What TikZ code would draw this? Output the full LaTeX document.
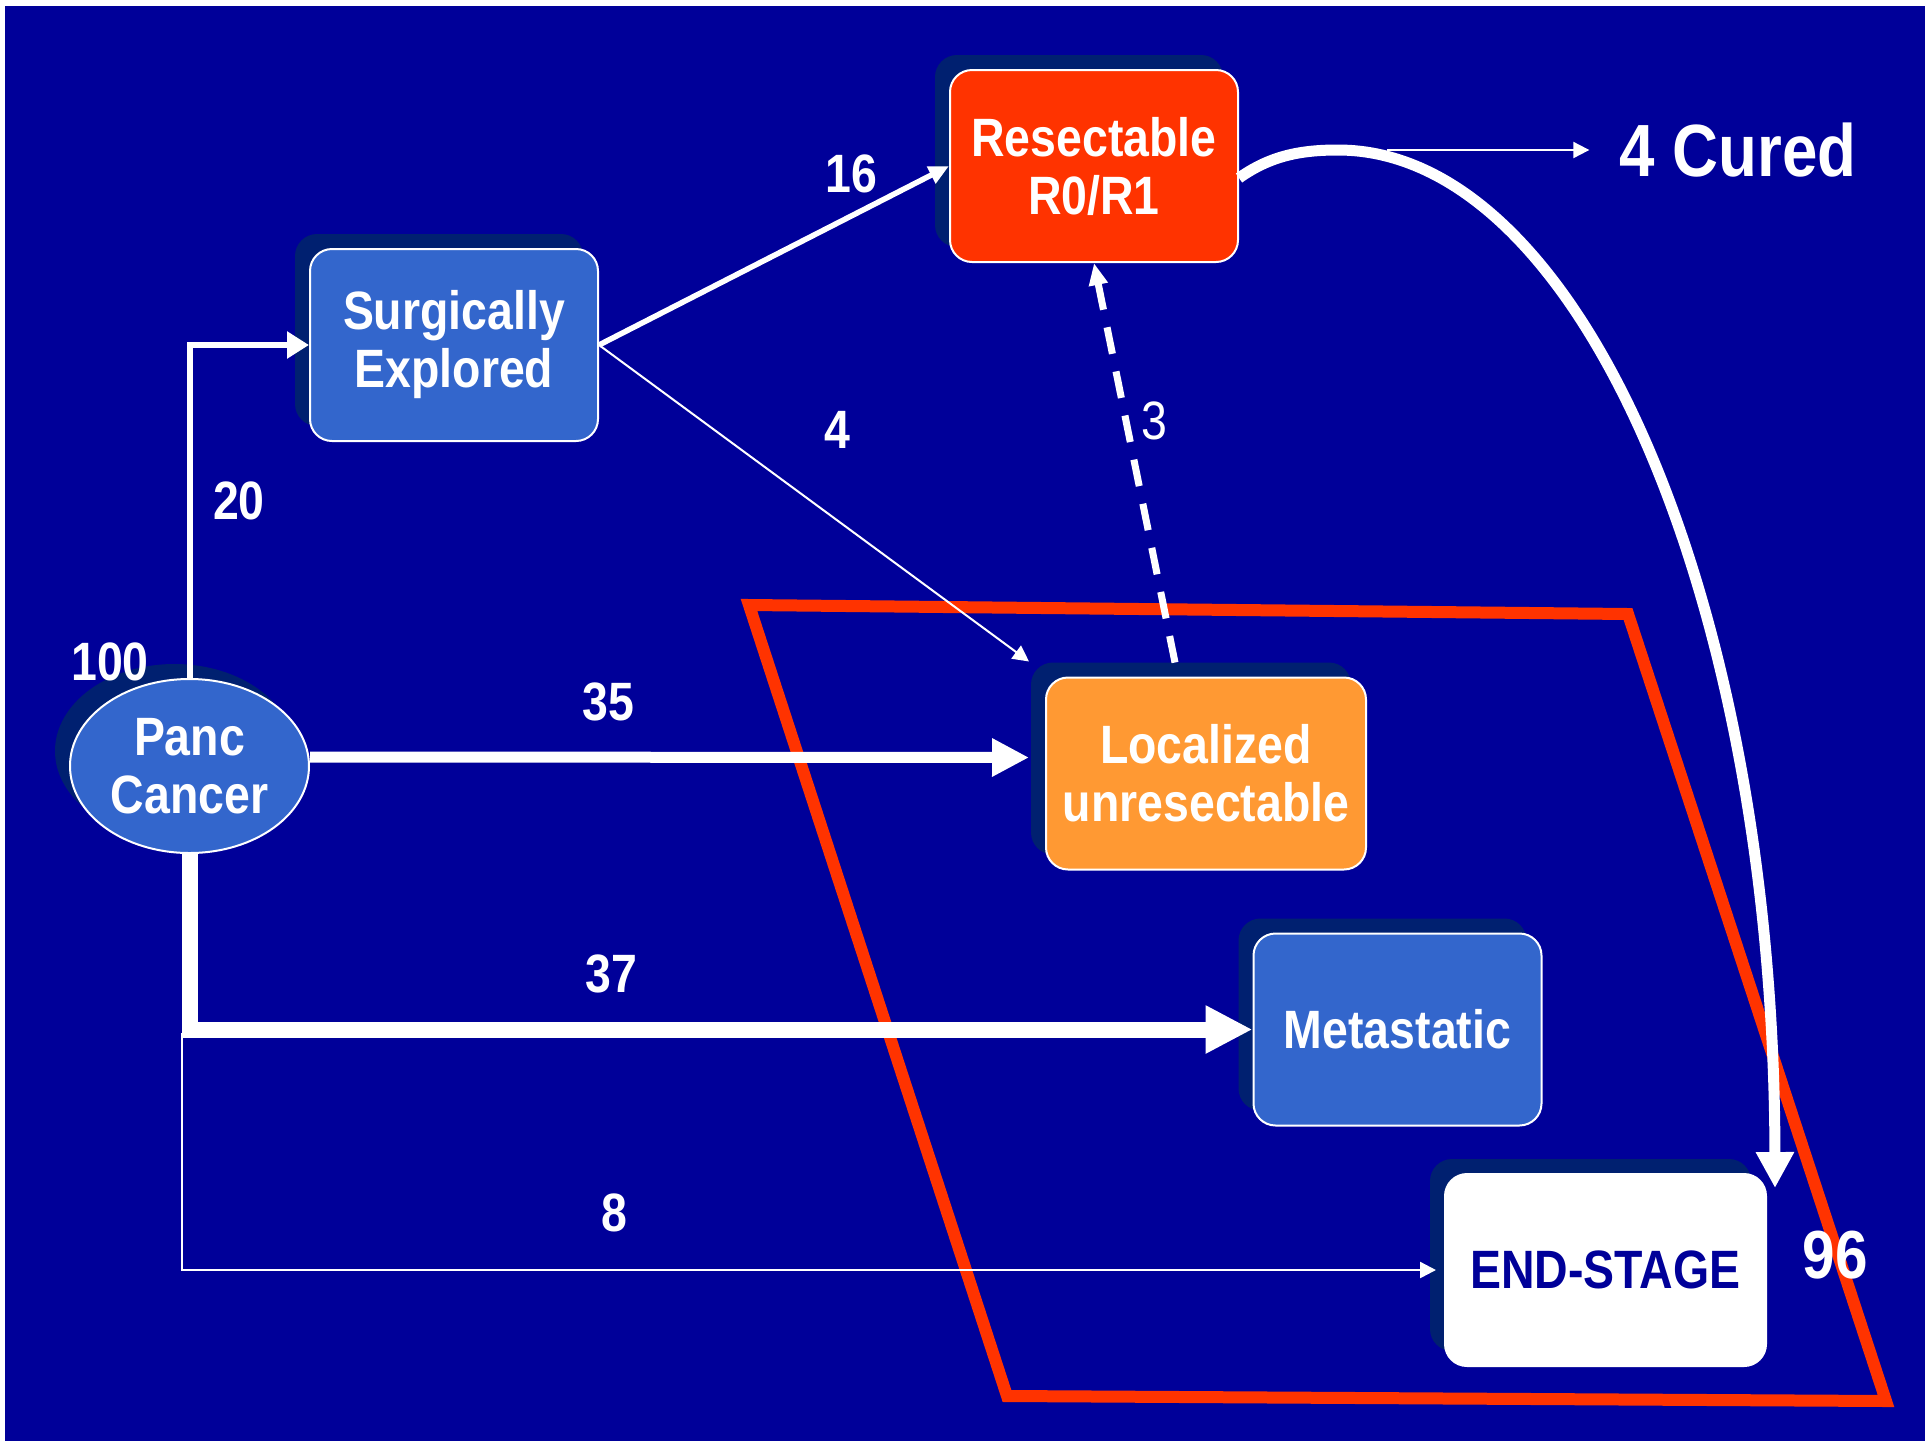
\documentclass[tikz,border=0pt]{standalone}
\usepackage{fontspec}
\setmainfont{Liberation Sans}
\newfontfamily\narrowsans[FakeStretch=0.86]{Liberation Sans}
\usetikzlibrary{arrows.meta,shadows,shapes.geometric,calc}

\definecolor{slidebg}{RGB}{0,0,153}
\definecolor{boxblue}{RGB}{51,102,204}
\definecolor{resred}{RGB}{255,51,0}
\definecolor{locorange}{RGB}{255,153,51}
\definecolor{shadowc}{RGB}{0,32,112}

\begin{document}
\begin{tikzpicture}[x=1pt,y=-1pt,
  stagefont/.style={font=\narrowsans\bfseries\fontsize{54}{58}\selectfont},
  numlbl/.style={stagefont, text=white, inner sep=0pt},
  stage/.style={rectangle, rounded corners=22pt, draw=white, line width=2pt,
    inner sep=0pt, minimum width=288pt, minimum height=192pt, align=center,
    text=white, stagefont,
    general shadow={fill=shadowc, shadow xshift=-15pt, shadow yshift=15pt}},
  flowline/.style={draw=white, line width=#1},
  arrS/.style={-{Triangle[length=16pt,width=16pt]}},
  arrM/.style={-{Triangle[length=20pt,width=18pt]}},
  arrL/.style={-{Triangle[length=22pt,width=26pt]}},
  arrXL/.style={-{Triangle[length=37pt,width=36pt]}},
  arrXXL/.style={-{Triangle[length=47pt,width=45pt]}},
]
% page and slide background
\useasboundingbox (0,0) rectangle (1925,1441);
\fill[white] (0,0) rectangle (1925,1441);
\fill[slidebg] (5,6) rectangle (1925,1441);

% stages
\node[ellipse, draw=white, line width=2pt, fill=boxblue, inner sep=0pt,
  minimum width=239pt, minimum height=174pt, align=center, text=white, stagefont,
  general shadow={fill=shadowc, shadow xshift=-15pt, shadow yshift=15pt}]
  (panc) at (189.5,766) {Panc\\Cancer};
\node[stage, fill=boxblue] (surg) at (454,345) {Surgically\\Explored};
\node[stage, fill=resred] (res) at (1094,166) {Resectable\\R0/R1};
\node[stage, fill=locorange, minimum width=320pt] (loc) at (1206,773.5) {Localized\\unresectable};
\node[stage, fill=boxblue] (meta) at (1397.5,1029.5) {Metastatic};
\node[stage, fill=white, text=slidebg, minimum width=321pt] (end) at (1605.5,1270) {END-STAGE};

% outcome
\node[inner sep=0pt, text=white, font=\narrowsans\bfseries\fontsize{74}{80}\selectfont]
  (cured) at (1738,150) {4 Cured};

% red region around the non-curable stages
\draw[resred, line width=12pt, line join=miter]
  (749,605) -- (1628,614) -- (1886,1401) -- (1007,1396) -- cycle;

% flows out of diagnosis
\draw[flowline=6pt, arrL] (panc.north) |- (surg.west);
\draw[flowline=11pt, arrXL] ([yshift=9pt]panc.east) -- ([xshift=-16pt,yshift=16pt]loc.west);
\draw[flowline=16pt, arrXXL] (panc.south) |- (meta.west);
\coordinate (split) at (182,1033);
\draw[flowline=2.5pt, arrS] (split) |- ([xshift=-8pt]end.west);

% flows out of exploration
\draw[flowline=5.5pt, arrM] (surg.east) -- (res.west);
\draw[flowline=2pt, arrS] (surg.east) -- ([xshift=-16pt,yshift=15pt]loc.north west);

% down-staged back to resection
\draw[flowline=7pt, dash pattern=on 27pt off 18pt, -{Triangle[length=22pt,width=18pt]}]
  ([xshift=-31pt,yshift=14pt]loc.north) -- (res.south);

% relapse after resection
\draw[flowline=11pt, -{Triangle[length=36pt,width=36pt]}]
  ([yshift=-12pt]res.east) .. controls (1270,156) and (1300,150) .. (1338,150)
  .. controls (1579,150) and (1774,599) .. ([xshift=8pt,yshift=-15pt]end.north east);
\coordinate (peak) at (1387,150);
\draw[flowline=2pt, arrS] (peak) -- ([xshift=-30pt]cured.west);

% patient counts
\node[numlbl] (n100) at (110,662) {100};
\node[numlbl] (n20) at (239,501) {20};
\node[numlbl] (n16) at (851,174) {16};
\node[numlbl] (n4) at (837,430) {4};
\node[numlbl, font=\narrowsans\fontsize{54}{58}\selectfont] (n3) at (1154,421) {3};
\node[numlbl] (n35) at (608,702) {35};
\node[numlbl] (n37) at (611,974) {37};
\node[numlbl] (n8) at (614,1213) {8};
\node[numlbl, font=\narrowsans\bfseries\fontsize{68}{72}\selectfont] (n96) at (1835,1255) {96};
\end{tikzpicture}
\end{document}
